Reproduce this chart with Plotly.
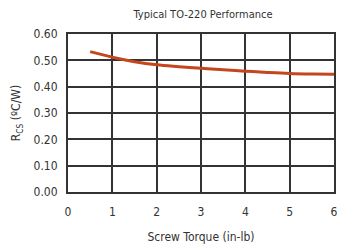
import plotly.graph_objects as go

torque = [0.5, 1.0, 1.5, 2.0, 2.5, 3.0, 3.5, 4.0, 4.5, 5.0, 5.5, 6.0]
resistance = [0.533, 0.512, 0.495, 0.483, 0.476, 0.470, 0.464, 0.459, 0.454, 0.450, 0.448, 0.447]
x_ticks = [0, 1, 2, 3, 4, 5, 6]
y_ticks = [0.0, 0.1, 0.2, 0.3, 0.4, 0.5, 0.6]
y_tick_labels = ["0.00", "0.10", "0.20", "0.30", "0.40", "0.50", "0.60"]

font_family = "DejaVu Sans Condensed, Liberation Sans Narrow, DejaVu Sans"

fig = go.Figure()
fig.add_trace(go.Scatter(
    x=torque, y=resistance, mode="lines",
    line=dict(color="#C4461C", width=3, shape="spline", smoothing=1.0),
    showlegend=False, hoverinfo="skip",
))

fig.update_layout(
    width=340, height=246,
    margin=dict(l=68, r=2, t=34, b=54),
    paper_bgcolor="white", plot_bgcolor="white",
    font=dict(family=font_family, size=12, color="#333333"),
    title=dict(text="Typical TO-220 Performance", x=(68 + 338) / 2 / 340, xanchor="center",
               y=1 - 14 / 246, yanchor="middle", font=dict(size=11, color="#333333")),
    xaxis=dict(
        range=[0, 6], tickvals=x_ticks, ticktext=[str(v) for v in x_ticks],
        showgrid=True, gridcolor="#333333", gridwidth=1.5,
        showline=True, linecolor="#333333", linewidth=2, mirror=True,
        zeroline=False, ticks="", ticklabelstandoff=8,
        title=dict(text="Screw Torque (in-lb)", font=dict(size=12), standoff=14),
    ),
    yaxis=dict(
        range=[0, 0.6], tickvals=y_ticks, ticktext=y_tick_labels,
        showgrid=True, gridcolor="#333333", gridwidth=1.5,
        showline=True, linecolor="#333333", linewidth=2, mirror=True,
        zeroline=False, ticks="", ticklabelstandoff=6,
        title=dict(text="R<sub>CS</sub> (ºC/W)", font=dict(size=12), standoff=10),
    ),
)

post = (
    "document.body.style.margin='0';"
    "var s=document.createElement('style');"
    "s.textContent='svg text{font-stretch:condensed !important;}';"
    "document.head.appendChild(s);"
)
fig.write_html("out.html", post_script=post, config={"displayModeBar": False})
